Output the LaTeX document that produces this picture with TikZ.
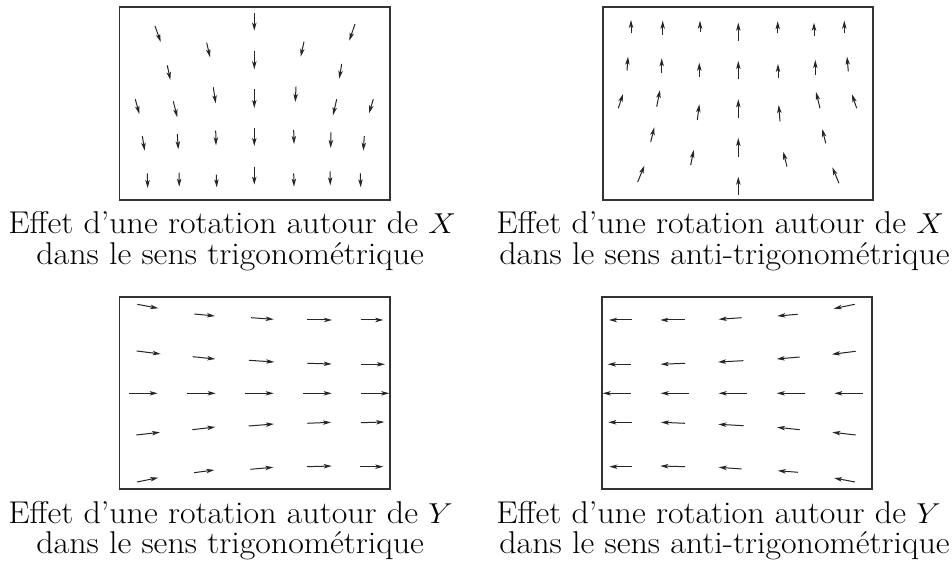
\documentclass[tikz,border=0pt]{standalone}
\usepackage{fontspec}
\usepackage{graphicx}
\usetikzlibrary{arrows.meta}
\newcommand{\wcap}[1]{\scalebox{1.077}[1]{#1}}
\begin{document}
\begin{tikzpicture}[x=0.5pt,y=-0.5pt,
  vec/.style={line width=0.5pt,draw=black!85,-{Stealth[length=4pt,width=2.2pt,inset=1pt]}},
  panel/.style={draw=black!80,line width=0.6pt},
  captxt/.style={anchor=base west,inner sep=0pt,font=\fontsize{15.75}{15.5}\selectfont}]
\useasboundingbox (0,0) rectangle (952,565);
% boxes
\draw[panel] (119.5,7) rectangle (390,200);
\draw[panel] (603,7) rectangle (873,200);
\draw[panel] (119.5,297) rectangle (390,489);
\draw[panel] (602,297) rectangle (872,489);
% panel 1 : X trigonometrique
\foreach \a/\b/\c/\d in {
155/26/160.7/42, 254.3/12.7/254.3/30.7, 355/24/349.3/40.7,
206.7/42.7/210/57.3, 254.3/51/254.3/69.3, 304/41.7/300.7/56.7,
167.3/65.3/170.3/80, 341.7/64/339.3/78.7,
135.3/99.3/139.3/114, 173.3/101.3/177.3/117.3, 213.3/87.3/215.7/103.3, 254.3/89.3/254.3/108,
296/86.7/295.3/102, 336.7/99.3/333/115.3, 373.3/99.3/369/113.3,
142.3/136/144.7/150.7, 177.3/134/178.3/149.3, 215.7/130.7/216/145.3, 254.3/127.7/254.3/146,
293.7/130/294/144, 331/132.3/330.7/148, 364.3/136/363.3/150.7,
147.3/173.3/147.7/188, 179/172.7/179.3/186.7, 216.3/174.7/216.7/187.3, 254.3/166.7/254.3/184.7,
293.7/173.3/294/186.7, 330/171.3/330.3/185.3, 360.3/173.3/360.7/187.3}
  \draw[vec] (\a,\b) -- (\c,\d);
% panel 2 : X anti-trigonometrique
\foreach \a/\b/\c/\d in {
631/33.3/631/20, 662.7/35/662.7/20.7, 700/32.3/700/20.7, 738.3/41/738.3/22.7,
777.7/33.3/777.7/21.3, 814/36/814/22.7, 844.3/33.3/844.3/20.7,
627/70.7/628/56.7, 661.7/73.3/661.7/58.3, 699.3/76.7/699.3/62.7, 738.3/79.3/738.3/61,
778/77.7/778/64, 815.3/75/815.3/60, 848.3/71.3/847/56.7,
618.3/108.3/623/94, 656.7/106.7/660/90, 697.3/120/699.3/104.3, 738.3/118.3/738.3/99.3,
780/121.3/778.7/105, 820/108.3/816/92, 856.7/108.3/852/94.3,
650.7/142/654.3/127.3, 690.7/165/693.7/150, 738.3/156.7/738.3/138,
787/166.7/783.3/151.7, 825.7/143.3/822.3/129,
637.7/182/644.3/165.7, 738.3/195.3/738.3/176.7, 839/183.3/832.3/167.3}
  \draw[vec] (\a,\b) -- (\c,\d);
% panel 3 : Y trigonometrique
\foreach \a/\b/\c/\d in {
137.3/304.3/158.3/308.3, 194.3/314/215/316, 251/317.7/273.7/319.3, 307.3/320/332/320, 360.7/320/383.3/320,
136.7/351/160.7/354, 192.7/356.7/215.3/359, 249/360.3/274.3/362, 307.3/363.3/331.7/364, 361/364.3/385/364.3,
129.3/393.3/157.7/393.3, 187.3/393.3/215.7/393.3, 245.3/393.3/273.7/393.3, 303.3/393.3/331.7/393.3, 361/393.3/389.3/393.3,
136.3/435/160/432.3, 192.3/429.7/215.3/427, 248.7/426/274/424, 307.3/423.3/331/422.3, 361/422.7/384.3/422,
137/482/158.3/477.7, 194/472.7/214.3/470, 250.3/469.3/273.3/467.3, 307/466.7/331.7/466, 360.3/466.7/383.3/466.7}
  \draw[vec] (\a,\b) -- (\c,\d);
% panel 4 : Y anti-trigonometrique
\foreach \a/\b/\c/\d in {
631.7/320/609/320, 685/320/660.3/320, 741.7/317.7/718.7/319.3, 797.7/314.3/777.3/316, 854.7/304.3/833.7/308.7,
631/364.3/607.7/364.3, 685/363.3/660.7/364.3, 743.3/360.7/718/362, 799.7/357/776.7/359, 855.7/351.3/832/354.3,
631/393.3/602.7/393.3, 689/393.3/660.7/393.3, 747/393.3/718.7/393.3, 805/393.3/776.7/393.3, 862.7/393.3/834.3/393.3,
631.7/422.3/608.3/422.3, 685/423.3/661/422.3, 743.7/425.7/718.3/424.3, 799.7/429.7/777/427.3, 855.7/435/832.3/432.3,
631.7/466.7/609.3/466.7, 685/466.7/660.3/466, 741.7/469/718.7/467.3, 798/472.3/777.7/470.7, 855/482/834/478}
  \draw[vec] (\a,\b) -- (\c,\d);
% captions
\node[captxt] (c1a) at (8,234) {\wcap{Effet d’une rotation autour de $X$}};
\node[captxt] (c1b) at (36,265) {\wcap{dans le sens trigonométrique}};
\node[captxt] (c2a) at (496,234) {\wcap{Effet d’une rotation autour de $X$}};
\node[captxt] (c2b) at (499,265) {\wcap{dans le sens anti-trigonométrique}};
\node[captxt] (c3a) at (8,524) {\wcap{Effet d’une rotation autour de $Y$}};
\node[captxt] (c3b) at (36,554) {\wcap{dans le sens trigonométrique}};
\node[captxt] (c4a) at (496,524) {\wcap{Effet d’une rotation autour de $Y$}};
\node[captxt] (c4b) at (499,554) {\wcap{dans le sens anti-trigonométrique}};
\end{tikzpicture}
\end{document}
